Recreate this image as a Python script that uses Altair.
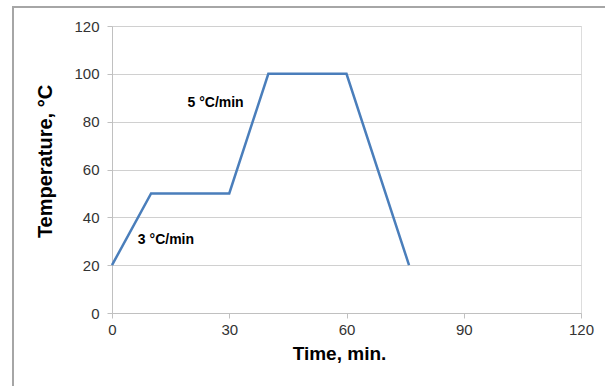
import altair as alt
import pandas as pd

time_min = [0, 10, 30, 40, 60, 76]
temp_c = [20, 50, 50, 100, 100, 20]

ann_x = [13.8, 26.5]
ann_y = [30.4, 88]
ann_text = ["3 °C/min", "5 °C/min"]

df = pd.DataFrame({"t": time_min, "T": temp_c})
ann = pd.DataFrame({"x": ann_x, "y": ann_y, "label": ann_text})

FONT = "Liberation Sans"

x_scale = alt.Scale(domain=[0, 120], nice=False)
y_scale = alt.Scale(domain=[0, 120], nice=False)

line = alt.Chart(df).mark_line(color="#4a7ebb", strokeWidth=2.5).encode(
    x=alt.X("t:Q", scale=x_scale,
            axis=alt.Axis(title="Time, min.", values=[0, 30, 60, 90, 120],
                          grid=False, domainColor="#c0c0c0", tickColor="#c0c0c0",
                          tickSize=5, labelPadding=4, labelFontSize=15,
                          labelFlush=False, labelOverlap=False,
                          labelColor="#333333", labelFont=FONT,
                          titleFont=FONT, titleFontSize=19, titleFontWeight="bold",
                          titleColor="#000000", titleX=227, titleY=31,
                          titleBaseline="top")),
    y=alt.Y("T:Q", scale=y_scale,
            axis=alt.Axis(title="Temperature, °C", values=[0, 20, 40, 60, 80, 100, 120],
                          grid=True, gridColor="#d0d0d0", gridWidth=1.2,
                          domainColor="#c0c0c0", tickColor="#c0c0c0",
                          tickSize=5, labelPadding=8, labelFontSize=15,
                          labelFlush=False, labelOverlap=False,
                          labelColor="#333333", labelFont=FONT,
                          titleFont=FONT, titleFontSize=20, titleFontWeight="bold",
                          titleColor="#000000", titleX=-57, titleY=135,
                          titleBaseline="bottom")),
)

text = alt.Chart(ann).mark_text(font=FONT, fontSize=14, fontWeight="bold",
                                color="#000000", align="center", baseline="middle").encode(
    x=alt.X("x:Q", scale=x_scale),
    y=alt.Y("y:Q", scale=y_scale),
    text="label:N",
)

frame = alt.Chart(pd.DataFrame({"a": [0]})).mark_rect(
    fill=None, stroke="#a6a6a6", strokeWidth=2
).encode(
    x=alt.value(-99), x2=alt.value(520),
    y=alt.value(-19), y2=alt.value(380),
)

chart = alt.layer(frame, line, text).properties(
    width=469, height=287,
    autosize=alt.AutoSizeParams(type="none"),
    padding={"left": 112, "top": 26, "right": 24, "bottom": 73},
).configure_view(stroke=None).configure(background="white")

chart.save("out.html", embed_options={"renderer": "svg", "actions": False})
